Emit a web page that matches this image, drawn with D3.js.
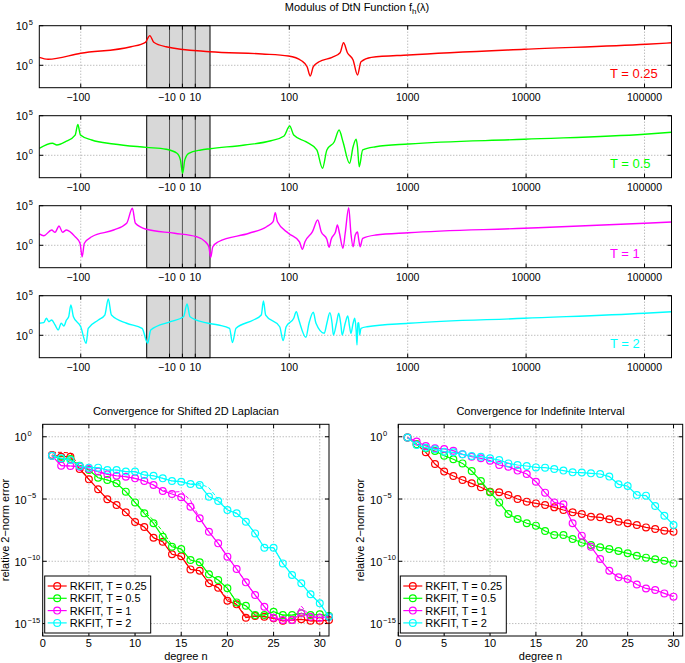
<!DOCTYPE html>
<html><head><meta charset="utf-8">
<script src="https://cdn.jsdelivr.net/npm/d3@7"></script>
<style>body{margin:0;background:#fff} text{font-family:"Liberation Sans",Arial,Helvetica,sans-serif;fill:#000}</style>
</head><body><svg id="c" width="685" height="663"></svg>
<script>
// ---------------- DATA ----------------
// top: modulus of DtN function, lambda axis
const xTickValues = [-100, -10, 0, 10, 100, 1000, 10000, 100000];
const xTickLabels = ["\u2212100", "\u221210", "0", "10", "100", "1000", "10000", "100000"];
const lambdaRange = [-224, 1.69e5];
const grayInterval = [-27.7, 21.4];
const modRange = [Math.pow(10, -2.83), 1e5];
const panelLabels = ["T = 0.25", "T = 0.5", "T = 1", "T = 2"];
const seriesColors = ["#ff0000", "#00ff00", "#ff00ff", "#00ffff"];

const lamT025 = [-224,-189,-100,-37.6,-28.4,-25.3,-22.2,-12.7,21.2,58.9,98.3,126.8,141.4,150.4,159.5,178.5,229.9,268.6,287,309.6,345.9,376.7,403.3,493.5,1018,9660,1.04e5,1.69e5];
const modT025 = [10,5.8,33,220,800,5500,800,220,52,27,15,3.8,0.66,0.045,0.66,2.8,10,39,700,39,4.7,0.06,2.8,10,20,105,450,700];

const lamT05 = [-224,-173.4,-159.2,-134.4,-111.5,-105.8,-100.6,-80.7,-52.7,-27.9,-12.7,-4.2,-1.56,0.15,1.86,4.9,14.4,21.4,42,70,90.4,100.8,109,138,170.7,190.7,207.7,240,263.4,284.1,323,345.9,366.7,376.7,389.4,416.9,537.8,1018,9660,1e5,1.69e5];
const modT05 = [7.6,33,20,52,360,8100,360,85,27,10,5.8,1.8,0.26,0.0054,0.26,1.8,4.7,6.8,20,69,275,5000,360,52,4.7,0.023,4.7,52,1550,52,0.098,12,105,12,0.036,4.7,12,27,105,450,800];

const lamT1 = [-224,-205.3,-176.1,-164.9,-152.5,-142.5,-132.1,-111.5,-101.4,-97.3,-93.2,-80.7,-52.7,-40.9,-36.6,-34.5,-27.9,-6,11,17.8,20.5,21.7,22.6,25.2,45.7,64.3,73,76.1,79.5,98.3,121.7,129,135.7,157,173.8,186,207.7,216.8,225.9,246,254.8,265.4,284.1,296.6,317.6,331.5,345.9,360.9,376.7,386.4,396.3,416.9,537.8,1018,9660,1e5,1.69e5];
const modT1 = [27,16,85,44,275,44,85,12,1.8,0.036,1.8,12,85,600,47000,600,105,33,12,2.8,0.66,0.03,0.66,2.8,33,220,950,13000,950,33,2.8,0.32,2.8,52,1550,52,5.8,0.56,5.8,52,360,33,0.42,33,56000,33,0.66,20,48,4.7,0.66,7.6,20,39,140,600,870];

const lamT2 = [-224,-205.3,-195.2,-185.7,-176.1,-164.9,-155.2,-146.1,-138.9,-132.1,-126.5,-121.2,-115.3,-100,-90,-86.4,-71,-62.6,-58.5,-55,-40.9,-30.3,-26.9,-24.6,-9.3,0.85,3.6,5.9,17.8,25.2,31.3,33.1,35.5,49.8,58,60.5,63.2,83,88.8,94.1,109,114.6,120.5,138,146.7,159.5,168.1,197.5,207.7,220.2,229.9,235.8,250.4,261.4,272.9,279.9,296.6,311.9,323,331.5,345.9,357.4,366.7,373.1,379.6,386.4,392.5,403.3,454,1018,9660,1e5,1.69e5];
const modT2 = [33,39,140,52,85,20,4.7,33,15,85,220,6800,220,12,0.098,7.6,85,360,38000,360,33,7.6,0.098,4.7,52,220,9000,220,39,20,7.6,0.12,7.6,85,360,21000,360,12,0.21,12,140,950,85,0.56,33,800,33,1.8,33,700,33,1.1,33,600,20,1.1,33,275,12,1.8,33,140,4.7,0.06,33,39,1.1,7.6,12,33,140,600,950];

// bottom: convergence (log10 of relative 2-norm error) vs degree n
const degreeLeft = d3.range(1, 32);
const degreeRight = d3.range(1, 31);
const legendLabels = ["RKFIT, T = 0.25", "RKFIT, T = 0.5", "RKFIT, T = 1", "RKFIT, T = 2"];
const errTicksLog10 = [0, -5, -10, -15];
const degreeTicks = [0, 5, 10, 15, 20, 25, 30];

const lapT025 = [-1.47,-1.6,-1.6,-2.59,-3.42,-4.22,-5.02,-5.48,-6.07,-6.85,-7.25,-8.11,-8.43,-9.44,-9.6,-10.65,-10.76,-11.77,-12.12,-13.17,-13.46,-14.53,-14.4,-14.45,-14.58,-14.78,-14.72,-14.66,-14.78,-14.78,-14.72];
const lapT05 = [-1.52,-1.79,-1.79,-2.32,-2.67,-3.29,-3.47,-3.74,-4.41,-5.27,-6.15,-6.95,-8.03,-8.83,-9.02,-9.9,-10.08,-11.05,-11.5,-12.17,-13.3,-13.57,-14.32,-14.32,-14.05,-14.32,-14.32,-14.18,-14.32,-14.26,-14.4];
const lapT1 = [-1.52,-2.32,-2.35,-2.4,-2.59,-2.8,-3.02,-3.13,-3.21,-3.34,-3.55,-3.88,-4.36,-4.6,-4.86,-5.62,-6.55,-7.63,-8.56,-9.63,-10.62,-11.69,-12.71,-13.65,-14.53,-14.72,-14.72,-14.18,-14.45,-14.53,-14.45];
const lapT2 = [-1.52,-1.73,-1.87,-2.35,-2.48,-2.48,-2.67,-2.67,-2.8,-2.8,-3.07,-3.13,-3.34,-3.55,-3.61,-3.8,-3.88,-4.81,-5.16,-5.88,-6.15,-6.82,-7.76,-8.91,-8.91,-10.17,-11.1,-11.77,-12.65,-13.38,-14.45];
// dashed companions (left plot)
const lapDashT025 = [-1.25,-1.25,-1.3,-2.45,-3.42,-4.22,-5.02,-5.48,-6.07,-6.85,-7.25,-8.11,-8.43,-9.44,-9.6,-10.65,-10.76,-11.77,-12.12,-13.0,-13.46,-14.4,-14.4,-14.45,-14.58,-14.78,-14.72,-14.66,-14.78,-14.78,-14.72];
const lapDashT05 = [-1.52,-1.79,-1.79,-2.32,-2.67,-3.29,-3.47,-3.74,-4.41,-5.27,-6.0,-6.7,-7.6,-8.7,-9.02,-9.9,-10.08,-11.05,-11.5,-12.17,-13.3,-13.57,-14.32,-14.32,-14.05,-14.32,-14.32,-14.18,-14.32,-14.26,-14.4];
const lapDashT1 = [-1.52,-2.32,-2.35,-2.4,-2.59,-2.8,-3.02,-3.13,-3.21,-3.34,-3.55,-3.88,-4.3,-4.45,-4.4,-5.1,-6.55,-7.63,-8.56,-9.63,-10.62,-11.69,-12.71,-13.65,-14.53,-14.72,-14.72,-13.6,-14.45,-14.53,-14.45];
const lapDashT2 = [-1.52,-1.73,-1.87,-2.35,-2.48,-2.48,-2.67,-2.67,-2.8,-2.8,-3.07,-3.13,-3.34,-3.55,-3.61,-3.8,-3.75,-4.1,-5.0,-5.88,-6.15,-6.82,-7.76,-8.91,-8.91,-10.17,-11.1,-11.77,-12.65,-13.38,-14.45];

const indT025 = [-0.07,-0.61,-1.25,-2.19,-2.8,-3.15,-3.47,-3.74,-4.06,-4.41,-4.46,-4.68,-5.0,-5.21,-5.35,-5.48,-5.67,-5.88,-6.07,-6.2,-6.42,-6.47,-6.63,-6.82,-6.95,-7.09,-7.28,-7.41,-7.54,-7.62];
const indT05 = [-0.07,-0.61,-0.93,-1.14,-1.52,-1.81,-2.14,-2.75,-3.55,-4.46,-5.27,-6.2,-6.61,-6.95,-7.14,-7.57,-7.89,-7.89,-8.21,-8.51,-8.69,-8.88,-9.02,-9.18,-9.36,-9.55,-9.71,-9.84,-9.95,-10.17];
const indT1 = [-0.07,-0.39,-0.74,-0.93,-0.98,-1.12,-1.41,-1.6,-1.73,-1.92,-2.27,-2.4,-2.72,-2.99,-3.61,-4.49,-5.27,-5.43,-6.95,-7.94,-8.83,-9.82,-10.76,-11.29,-11.43,-11.86,-12.18,-12.31,-12.58,-12.84];
const indT2 = [-0.07,-0.66,-0.88,-1.01,-1.2,-1.25,-1.41,-1.54,-1.6,-1.73,-1.87,-2.14,-2.27,-2.35,-2.46,-2.48,-2.59,-2.72,-2.86,-2.88,-2.94,-2.99,-3.2,-3.82,-3.96,-4.68,-4.73,-5.56,-6.34,-7.09];

// ---------------- DRAWING ----------------
const svg = d3.select("#c");
const GRID = {stroke: "#8a8a8a", dash: "1,2"};

function supLabel(g, xEnd, yBase, base, expo, size, expSize) {
  g.append("text").attr("x", xEnd).attr("y", yBase).attr("text-anchor", "end")
    .attr("font-size", size).text(base);
  g.append("text").attr("x", xEnd + 0.8).attr("y", yBase - size * 0.5)
    .attr("font-size", expSize).text(expo);
}

// title top
const t0 = svg.append("text").attr("x", 357).attr("y", 11).attr("text-anchor", "middle").attr("font-size", 11);
t0.append("tspan").text("Modulus of DtN Function f");
t0.append("tspan").attr("font-size", 8).attr("dy", 3).text("h");
t0.append("tspan").attr("dy", -3).text("(\u03bb)");

const PL = 39.3, GL = 146.7, GR = 210, PR = 671.5, PH = 62;
const xNeg = d3.scaleLog().domain([-lambdaRange[0], -grayInterval[0]]).range([PL, GL]);
const xMid = d3.scaleLinear().domain(grayInterval).range([GL, GR]);
const xPos = d3.scaleLog().domain([grayInterval[1], lambdaRange[1]]).range([GR, PR]);
function xTop(l) {
  if (l < grayInterval[0]) return xNeg(-l);
  if (l <= grayInterval[1]) return xMid(l);
  return xPos(l);
}

const topSeries = [[lamT025, modT025], [lamT05, modT05], [lamT1, modT1], [lamT2, modT2]];
const panelTops = [25.7, 115.7, 205.7, 295.7];

topSeries.forEach(([lam, mod], i) => {
  const top = panelTops[i], bot = top + PH;
  const g = svg.append("g");
  const y = d3.scaleLog().domain(modRange).range([bot, top]);
  const cid = "clipTop" + i;
  svg.append("clipPath").attr("id", cid).append("rect").attr("x", PL).attr("y", top).attr("width", PR - PL).attr("height", PH);
  // grid
  [-100, 100, 1000, 10000, 100000].forEach(v => {
    g.append("line").attr("x1", xTop(v)).attr("x2", xTop(v)).attr("y1", top).attr("y2", bot)
      .attr("stroke", GRID.stroke).attr("stroke-width", 0.8).attr("stroke-dasharray", GRID.dash);
  });
  [1].forEach(v => {
    g.append("line").attr("x1", PL).attr("x2", PR).attr("y1", y(v)).attr("y2", y(v))
      .attr("stroke", GRID.stroke).attr("stroke-width", 0.8).attr("stroke-dasharray", GRID.dash);
  });
  // gray interval
  g.append("rect").attr("x", xTop(grayInterval[0])).attr("y", top)
    .attr("width", xTop(grayInterval[1]) - xTop(grayInterval[0])).attr("height", PH)
    .attr("fill", "#d8d8d8").attr("stroke", "#000").attr("stroke-width", 1);
  [-10, 0, 10].forEach(v => {
    g.append("line").attr("x1", xTop(v)).attr("x2", xTop(v)).attr("y1", top).attr("y2", bot)
      .attr("stroke", "#333").attr("stroke-width", 0.8);
  });
  // ticks
  xTickValues.forEach(v => {
    g.append("line").attr("x1", xTop(v)).attr("x2", xTop(v)).attr("y1", top).attr("y2", top + 4).attr("stroke", "#000");
    g.append("line").attr("x1", xTop(v)).attr("x2", xTop(v)).attr("y1", bot).attr("y2", bot - 4).attr("stroke", "#000");
  });
  [1, 1e5].forEach(v => {
    g.append("line").attr("x1", PL).attr("x2", PL + 4).attr("y1", y(v)).attr("y2", y(v)).attr("stroke", "#000");
    g.append("line").attr("x1", PR).attr("x2", PR - 4).attr("y1", y(v)).attr("y2", y(v)).attr("stroke", "#000");
  });
  // curve
  const pts = lam.map((l, k) => ({l: l, v: mod[k]}));
  g.append("path").datum(pts).attr("clip-path", `url(#${cid})`)
    .attr("d", d3.line().x(d => xTop(d.l)).y(d => y(d.v)).curve(d3.curveMonotoneX))
    .attr("fill", "none").attr("stroke", seriesColors[i]).attr("stroke-width", 1.4).attr("stroke-linejoin", "round");
  // border
  g.append("rect").attr("x", PL).attr("y", top).attr("width", PR - PL).attr("height", PH)
    .attr("fill", "none").attr("stroke", "#000").attr("stroke-width", 1);
  // x labels
  xTickValues.forEach((v, k) => {
    g.append("text").attr("x", xTop(v) - (v < 0 ? 2.5 : 0)).attr("y", bot + 13).attr("text-anchor", "middle")
      .attr("font-size", 10.5).text(xTickLabels[k]);
  });
  // y labels
  supLabel(g, 28, y(1) + 4.5, "10", "0", 11, 7.5);
  supLabel(g, 28, y(1e5) + 4.5, "10", "5", 11, 7.5);
  // panel label
  g.append("text").attr("x", 610).attr("y", top + 52).attr("font-size", 13)
    .attr("fill", seriesColors[i]).style("fill", seriesColors[i]).text(panelLabels[i]);
});

// bottom plots
const yErr = d3.scaleLog().domain([1e-16, 1e1]).range([636, 424.3]);
function convPlot(x0, x1, title, degrees, solid, dashed) {
  const g = svg.append("g");
  const x = d3.scaleLinear().domain([0, 31]).range([x0, x1]);
  const top = yErr.range()[1], bot = yErr.range()[0];
  const cid = "clip" + Math.round(x0);
  svg.append("clipPath").attr("id", cid).append("rect").attr("x", x0).attr("y", top).attr("width", x1 - x0).attr("height", bot - top);
  degreeTicks.forEach(v => {
    if (v > 0) g.append("line").attr("x1", x(v)).attr("x2", x(v)).attr("y1", top).attr("y2", bot)
      .attr("stroke", GRID.stroke).attr("stroke-width", 0.8).attr("stroke-dasharray", GRID.dash);
    g.append("line").attr("x1", x(v)).attr("x2", x(v)).attr("y1", bot).attr("y2", bot - 4).attr("stroke", "#000");
    g.append("line").attr("x1", x(v)).attr("x2", x(v)).attr("y1", top).attr("y2", top + 4).attr("stroke", "#000");
    g.append("text").attr("x", x(v)).attr("y", bot + 10.5).attr("text-anchor", "middle").attr("font-size", 11).text(v);
  });
  errTicksLog10.forEach(e => {
    const yy = yErr(Math.pow(10, e));
    g.append("line").attr("x1", x0).attr("x2", x1).attr("y1", yy).attr("y2", yy)
      .attr("stroke", GRID.stroke).attr("stroke-width", 0.8).attr("stroke-dasharray", GRID.dash);
    g.append("line").attr("x1", x0).attr("x2", x0 + 4).attr("y1", yy).attr("y2", yy).attr("stroke", "#000");
    g.append("line").attr("x1", x1).attr("x2", x1 - 4).attr("y1", yy).attr("y2", yy).attr("stroke", "#000");
    supLabel(g, x0 - 16, yy + 4.5, "10", e === 0 ? "0" : "\u2212" + Math.abs(e), 11, 7.5);
  });
  const line = d3.line().x(d => x(d[0])).y(d => yErr(Math.pow(10, d[1])));
  if (dashed) dashed.forEach((s, i) => {
    g.append("path").datum(degrees.map((n, k) => [n, s[k]])).attr("clip-path", `url(#${cid})`)
      .attr("d", line).attr("fill", "none").attr("stroke", seriesColors[i]).attr("stroke-width", 1)
      .attr("stroke-dasharray", "4,2");
  });
  solid.forEach((s, i) => {
    const data = degrees.map((n, k) => [n, s[k]]);
    g.append("path").datum(data).attr("clip-path", `url(#${cid})`)
      .attr("d", line).attr("fill", "none").attr("stroke", seriesColors[i]).attr("stroke-width", 1.2);
    g.selectAll(null).data(data).enter().append("circle")
      .attr("cx", d => x(d[0])).attr("cy", d => yErr(Math.pow(10, d[1]))).attr("r", 3.4)
      .attr("fill", "none").attr("stroke", seriesColors[i]).attr("stroke-width", 1.2);
  });
  g.append("rect").attr("x", x0).attr("y", top).attr("width", x1 - x0).attr("height", bot - top)
    .attr("fill", "none").attr("stroke", "#000").attr("stroke-width", 1);
  // legend
  const lx = x0 + 2, ly = 576;
  g.append("rect").attr("x", lx).attr("y", ly).attr("width", 106).attr("height", 57)
    .attr("fill", "#fff").attr("stroke", "#000").attr("stroke-width", 1);
  legendLabels.forEach((lab, i) => {
    const yy = ly + 10 + i * 12.3;
    g.append("line").attr("x1", lx + 3).attr("x2", lx + 22).attr("y1", yy).attr("y2", yy)
      .attr("stroke", seriesColors[i]).attr("stroke-width", 1.2);
    g.append("circle").attr("cx", lx + 12.5).attr("cy", yy).attr("r", 3.4)
      .attr("fill", "none").attr("stroke", seriesColors[i]).attr("stroke-width", 1.2);
    g.append("text").attr("x", lx + 25).attr("y", yy + 4).attr("font-size", 11).text(lab);
  });
  // labels
  g.append("text").attr("x", (x0 + x1) / 2).attr("y", 415).attr("text-anchor", "middle").attr("font-size", 11).text(title);
  g.append("text").attr("x", x(15.5)).attr("y", 659.5).attr("text-anchor", "middle").attr("font-size", 11).text("degree n");
  g.append("text").attr("transform", `translate(${x0 - 34},530) rotate(-90)`).attr("text-anchor", "middle")
    .attr("font-size", 11).text("relative 2\u2212norm error");
}

convPlot(42.7, 329, "Convergence for Shifted 2D Laplacian", degreeLeft,
  [lapT025, lapT05, lapT1, lapT2], [lapDashT025, lapDashT05, lapDashT1, lapDashT2]);
convPlot(398.3, 682.7, "Convergence for Indefinite Interval", degreeRight,
  [indT025, indT05, indT1, indT2], null);
</script>
</body></html>
